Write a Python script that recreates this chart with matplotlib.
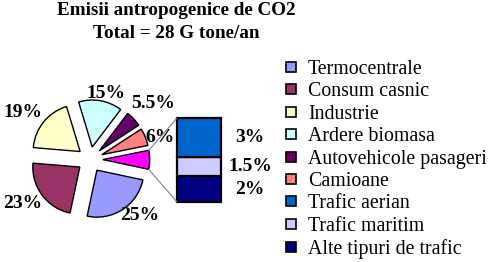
import numpy as np
import matplotlib
matplotlib.use("Agg")
import matplotlib.pyplot as plt
from matplotlib.patches import ConnectionPatch
from matplotlib.lines import Line2D

plt.rcParams['font.family'] = ['Liberation Serif', 'DejaVu Serif']

# data
title_lines = ["Emisii antropogenice de CO2", "Total = 28 G tone/an"]
pie_labels = ["Termocentrale", "Consum casnic", "Industrie", "Ardere biomasa",
              "Autovehicole pasageri", "Camioane"]
pie_values = [25, 23, 19, 15, 5.5, 6]
pie_colors = ["#9999FF", "#993366", "#FFFFCC", "#CCFFFF", "#660066", "#FF8080"]
bar_labels = ["Trafic aerian", "Trafic maritim", "Alte tipuri de trafic"]
bar_values = [3, 1.5, 2]
bar_colors = ["#0066CC", "#CCCCFF", "#000080"]
other_color = "#FF00FF"

W, H = 496, 262
fig = plt.figure(figsize=(W / 100, H / 100), dpi=100)


def px_axes(x0, y0, x1, y1):
    # pixel box, origin top-left
    return fig.add_axes([x0 / W, 1 - y1 / H, (x1 - x0) / W, (y1 - y0) / H])


# pie
R = 47.0
cx, cy = 90, 159.5
ax = px_axes(cx - 70, cy - 70, cx + 70, cy + 70)
values = pie_values + [sum(bar_values)]
wedges, _ = ax.pie(values, colors=pie_colors + [other_color], startangle=-12,
                   counterclock=False, explode=[0.27] * len(values),
                   wedgeprops=dict(edgecolor="black", linewidth=1.0))
ax.set_xlim(-70 / R, 70 / R)
ax.set_ylim(-70 / R, 70 / R)
ax.axis("off")

# label placement (distance in radii, angle nudge in degrees)
label_place = [(1.59, 9), (1.70, -3.6), (1.73, 4), (1.45, -3), (1.80, -1), (1.56, -5)]
for w, v, (d, da) in zip(wedges, pie_values, label_place):
    mid = np.radians((w.theta1 + w.theta2) / 2 + da)
    ax.text(d * np.cos(mid), d * np.sin(mid), f"{v:g}%", ha="center", va="center",
            fontsize=14, fontweight="bold")

# bar of pie
ax2 = px_axes(177, 118, 221, 202)
bottom = 0
for lab, v, c in reversed(list(zip(bar_labels, bar_values, bar_colors))):
    ax2.bar(0.5, v, width=1, bottom=bottom, color=c, edgecolor="black",
            linewidth=1.6, clip_on=False)
    ax2.text(1.66, bottom + v / 2, f"{v:g}%", ha="center", va="center",
             fontsize=14, fontweight="bold")
    bottom += v
ax2.set_xlim(0, 1)
ax2.set_ylim(0, sum(bar_values))
ax2.axis("off")

# connector lines
ow = wedges[-1]
ocx, ocy = ow.center
for th, yb in [(max(ow.theta1, ow.theta2), sum(bar_values)), (min(ow.theta1, ow.theta2), 0)]:
    t = np.radians(th)
    con = ConnectionPatch(xyA=(ocx + ow.r * np.cos(t), ocy + ow.r * np.sin(t)), coordsA=ax.transData,
                          xyB=(0, yb), coordsB=ax2.transData, color="#808080", linewidth=0.8)
    fig.add_artist(con)

# title
fig.text(176 / W, 1 - 2 / H, "\n".join(title_lines), ha="center", va="top",
         fontsize=13.8, fontweight="bold", linespacing=1.45)

# legend
handles = [Line2D([], [], marker="s", linestyle="none", markerfacecolor=c,
                  markeredgecolor="black", markersize=6.5, markeredgewidth=1.2)
           for c in pie_colors + bar_colors]
fig.legend(handles, pie_labels + bar_labels, loc="upper left",
           bbox_to_anchor=(284 / W, 1 - 60 / H), frameon=False, fontsize=14.3,
           handlelength=0.7, handletextpad=0.5, borderpad=0, borderaxespad=0,
           labelspacing=0.17)

fig.savefig("out.png", dpi=100)
